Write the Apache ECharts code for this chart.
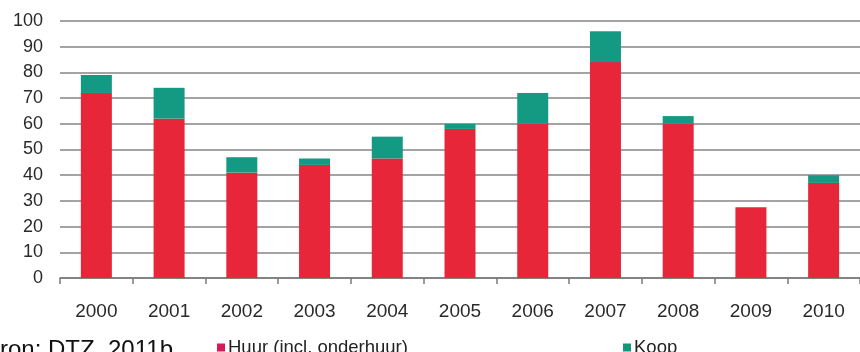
<!DOCTYPE html>
<html>
<head>
<meta charset="utf-8">
<script src="https://cdn.jsdelivr.net/npm/echarts@6/dist/echarts.min.js"></script>
<style>html,body{margin:0;padding:0;background:#fff;}#c{width:860px;height:352px;}</style>
</head>
<body>
<div id="c"></div>
<script>
const years = ['2000','2001','2002','2003','2004','2005','2006','2007','2008','2009','2010'];
const huur = [72, 62, 41, 44, 46.5, 58, 60, 84, 60, 27.5, 37];
const koop = [7, 12, 6, 2.5, 8.5, 2, 12, 12, 3, 0, 3];
const yTicks = [0, 10, 20, 30, 40, 50, 60, 70, 80, 90, 100];
const huurName = 'Huur (incl. onderhuur)';
const koopName = 'Koop';

const chart = echarts.init(document.getElementById('c'), null, {renderer: 'canvas'});
const font = 'Liberation Sans, Arial, sans-serif';
chart.setOption({
  animation: false,
  backgroundColor: '#fff',
  grid: {left: 60, right: -6, top: 21, bottom: 74},
  xAxis: {
    type: 'category',
    data: years,
    axisLine: {lineStyle: {color: '#7a7a7a', width: 1.5}},
    axisTick: {show: true, length: 6, lineStyle: {color: '#7a7a7a', width: 1.5}},
    axisLabel: {color: '#2a2a2a', fontSize: 19, fontFamily: font, margin: 24}
  },
  yAxis: {
    type: 'value',
    min: yTicks[0],
    max: yTicks[yTicks.length - 1],
    interval: yTicks[1] - yTicks[0],
    axisLine: {show: false},
    axisTick: {show: false},
    axisLabel: {color: '#2a2a2a', fontSize: 18, fontFamily: font, margin: 17},
    splitLine: {lineStyle: {color: '#858585', width: 1.6}}
  },
  legend: [
    {
      left: 212, top: 333, itemGap: 0,
      itemWidth: 8, itemHeight: 8, icon: 'rect',
      data: [{name: huurName, itemStyle: {color: '#d41c58'}}],
      textStyle: {color: '#222', fontSize: 18.5, fontFamily: font, padding: [0, 0, 0, -2]}
    },
    {
      left: 618, top: 333, itemGap: 0,
      itemWidth: 8, itemHeight: 8, icon: 'rect',
      data: [{name: koopName, itemStyle: {color: '#15967c'}}],
      textStyle: {color: '#222', fontSize: 18.5, fontFamily: font, padding: [0, 0, 0, -2]}
    }
  ],
  graphic: [{
    type: 'text',
    left: -16, top: 338,
    style: {text: 'Bron: DTZ, 2011b', fill: '#111', fontSize: 24, fontFamily: font}
  }],
  series: [
    {
      name: huurName, type: 'bar', stack: 's', data: huur, barWidth: 31,
      itemStyle: {color: '#e8263a'}
    },
    {
      name: koopName, type: 'bar', stack: 's', data: koop, barWidth: 31,
      itemStyle: {color: '#149a82'}
    }
  ]
});
</script>
</body>
</html>
